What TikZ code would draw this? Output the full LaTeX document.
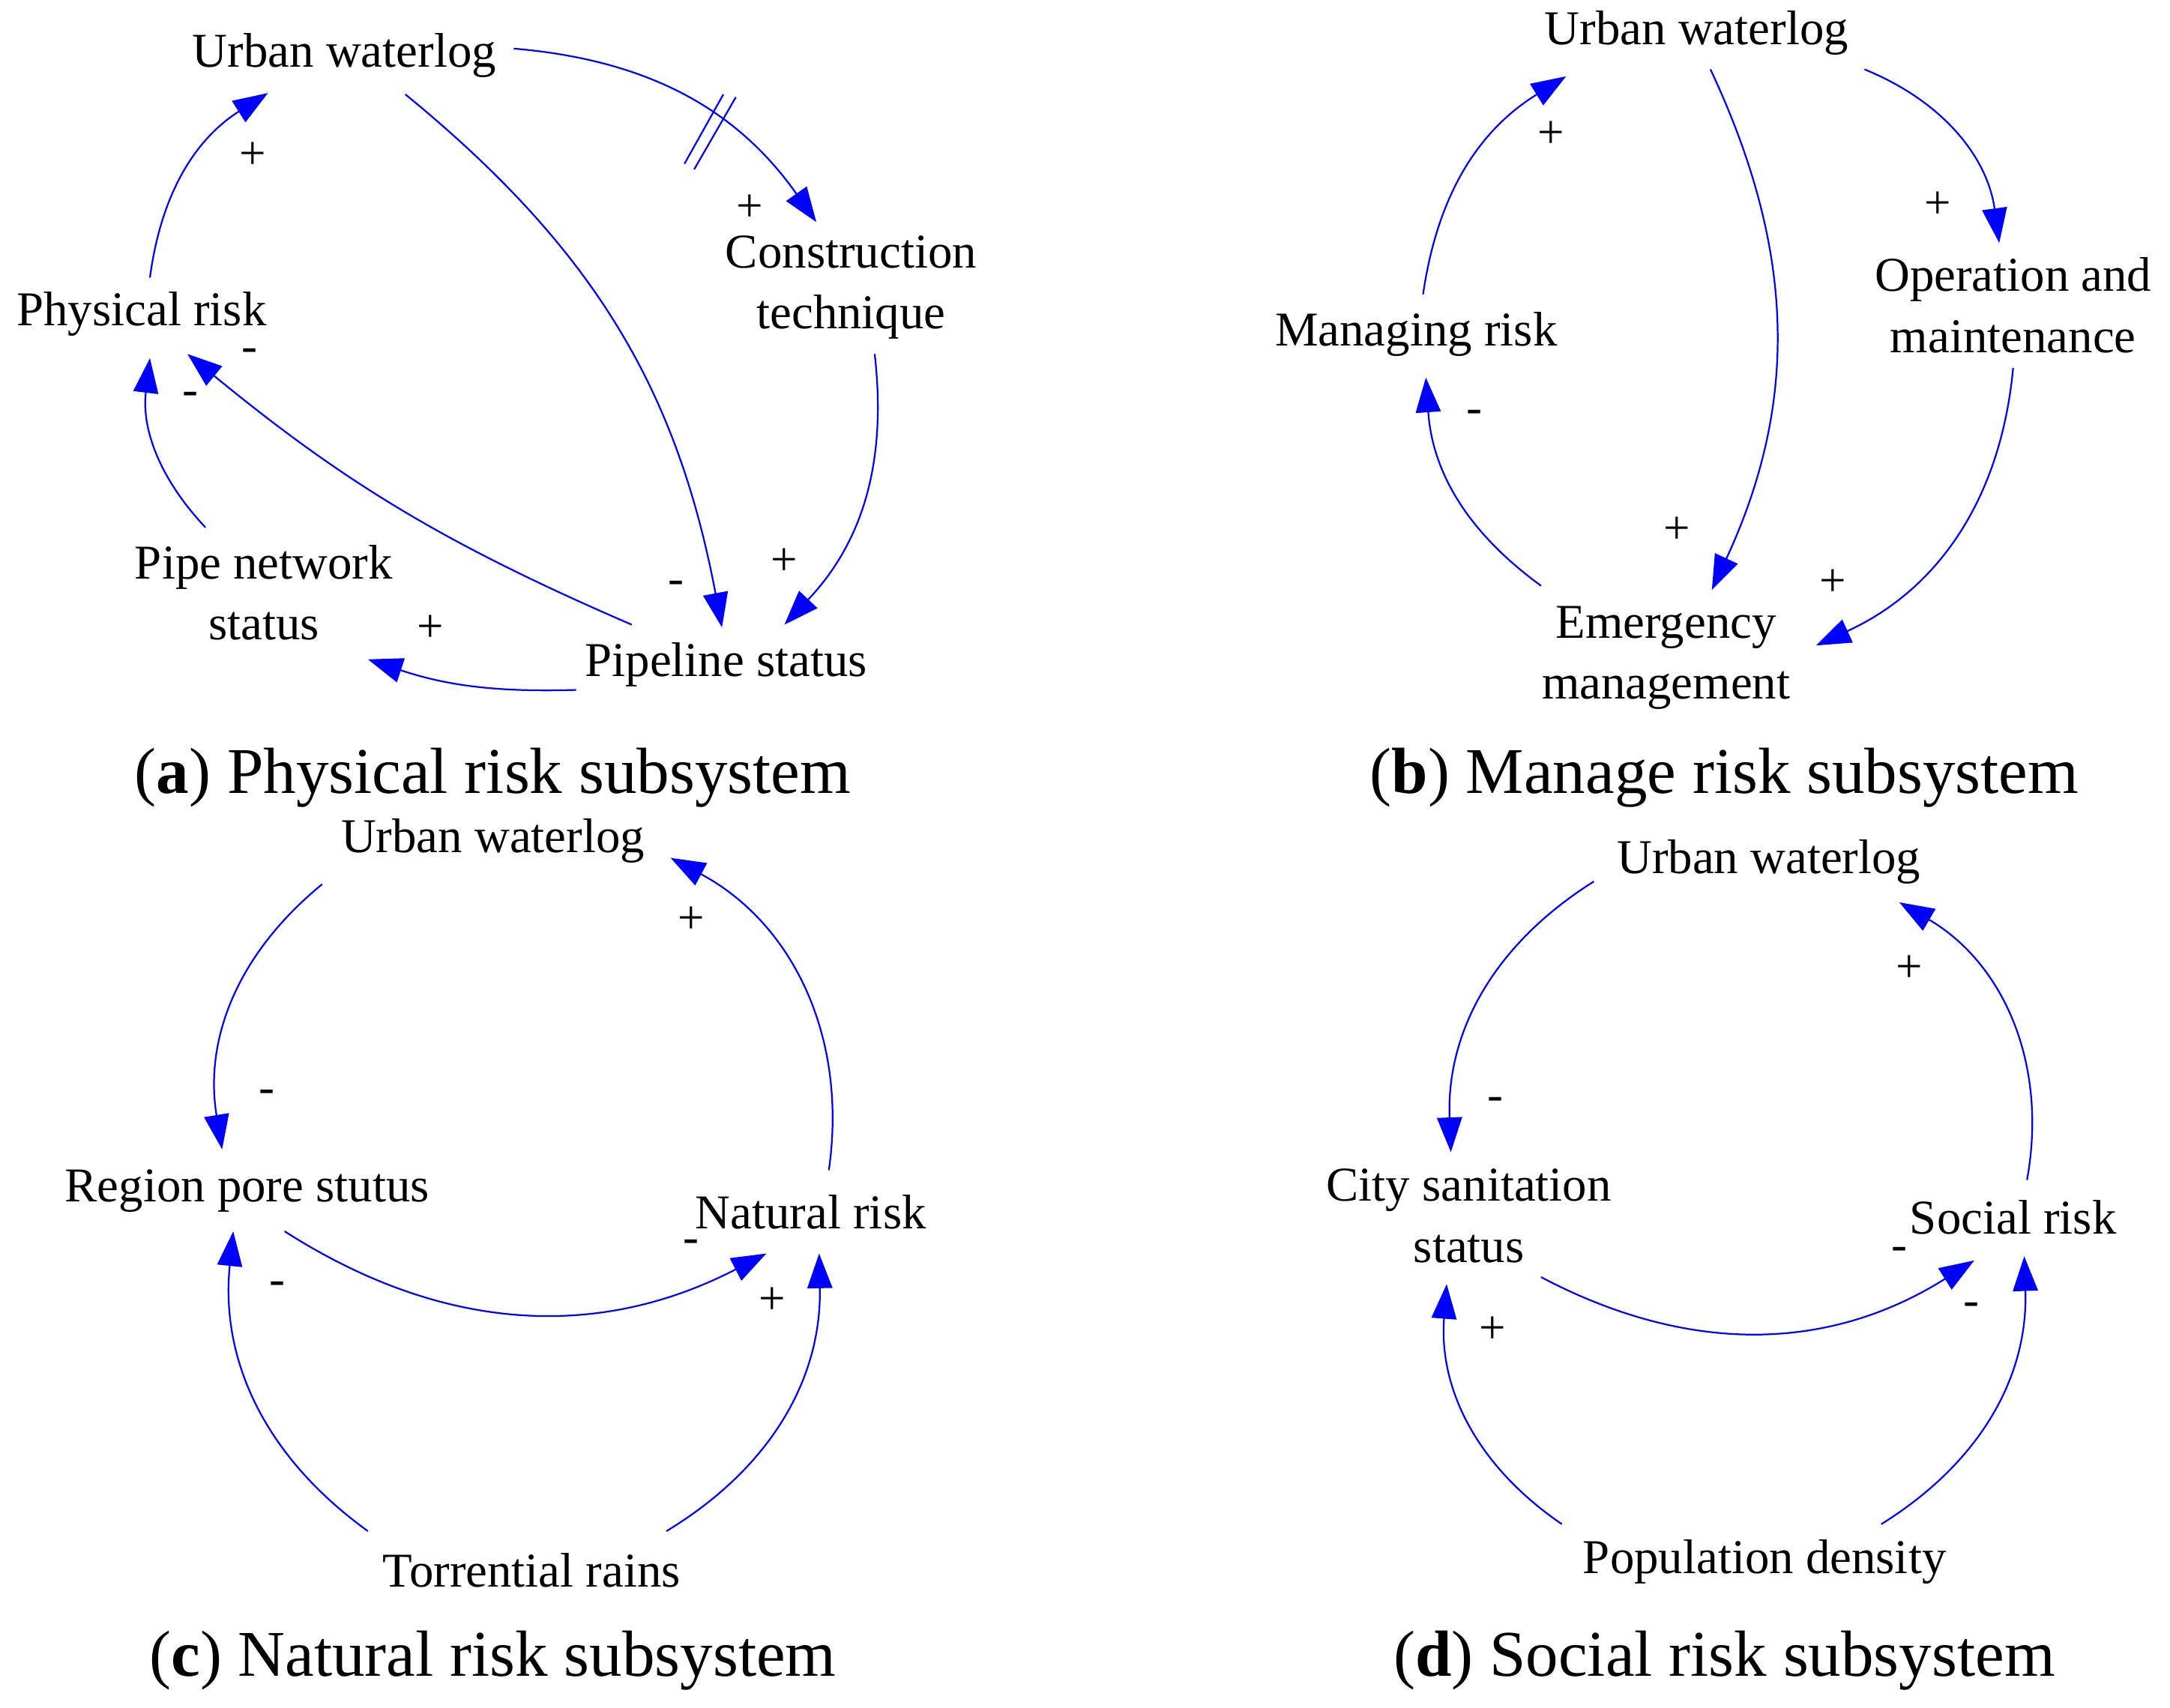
\documentclass[tikz,border=0pt]{standalone}
\usepackage{fontspec}
\setmainfont{Liberation Serif}
\usetikzlibrary{arrows.meta}
\begin{document}
\begin{tikzpicture}[x=0.5pt,y=0.5pt,
  lbl/.style={font=\fontsize{17.5}{22}\selectfont,align=center,inner sep=0pt},
  sgn/.style={font=\fontsize{17}{20}\selectfont,inner sep=0pt},
  captxt/.style={font=\fontsize{23.5}{28}\selectfont,inner sep=0pt},
  arr/.style={draw=blue,line width=0.6pt,-{Triangle[length=12.5pt,width=9pt]},fill=none}]
\useasboundingbox (0,0) rectangle (1563,-1230);
% (a)
\node[lbl] (aUW) at (248,-40) {Urban waterlog};
\node[lbl] (aCT) at (613,-207) {Construction\\technique};
\node[lbl] (aPH) at (102,-226) {Physical risk};
\node[lbl] (aPN) at (190,-427) {Pipe network\\status};
\node[lbl] (aPS) at (523,-479) {Pipeline status};
\draw[arr] ([shift={(122,5)}]aUW.center) to[bend left=25] ([shift={(-25,47)}]aCT.center);
\draw[arr] ([shift={(17,-48)}]aCT.center) to[bend left=25] ([shift={(42,29)}]aPS.center);
\draw[arr] ([shift={(44,-28)}]aUW.center) to[bend left=20] ([shift={(-3,27)}]aPS.center);
\draw[arr] ([shift={(-68,29)}]aPS.center) to[bend left=8] ([shift={(33,-29)}]aPH.center);
\draw[arr] ([shift={(-108,-18)}]aPS.center) to[bend left=10] ([shift={(75,-48)}]aPN.center);
\draw[arr] ([shift={(-42,47)}]aPN.center) to[bend left=25] ([shift={(6,-32)}]aPH.center);
\draw[arr] ([shift={(6,26)}]aPH.center) to[bend left=25] ([shift={(-55,-27)}]aUW.center);
\draw[blue,line width=0.6pt] (493,-118) -- (521,-68) (500,-122) -- (530,-70);
\node[sgn] (as1) at (540,-150) {+};
\node[sgn] (as2) at (565,-405) {+};
\node[sgn] (as3) at (487,-423) {-};
\node[sgn] (as4) at (180,-256) {-};
\node[sgn] (as5) at (310,-453) {+};
\node[sgn] (as6) at (137,-287) {-};
\node[sgn] (as7) at (182,-112) {+};
\node[captxt] (acap) at (355,-560) {(\textbf{a}) Physical risk subsystem};
% (b)
\node[lbl] (bUW) at (1222,-24) {Urban waterlog};
\node[lbl] (bOM) at (1450,-220) {Operation and\\maintenance};
\node[lbl] (bMR) at (1020,-241) {Managing risk};
\node[lbl] (bEM) at (1200,-474) {Emergency\\management};
\draw[arr] ([shift={(121,-26)}]bUW.center) to[bend left=30] ([shift={(-10,45)}]bOM.center);
\draw[arr] ([shift={(0,-45)}]bOM.center) to[bend left=30] ([shift={(108,9)}]bEM.center);
\draw[arr] ([shift={(10,-26)}]bUW.center) to[bend left=25] ([shift={(33,49)}]bEM.center);
\draw[arr] ([shift={(-90,52)}]bEM.center) to[bend left=25] ([shift={(7,-31)}]bMR.center);
\draw[arr] ([shift={(5,29)}]bMR.center) to[bend left=25] ([shift={(-94,-31)}]bUW.center);
\node[sgn] (bs1) at (1396,-148) {+};
\node[sgn] (bs2) at (1320,-420) {+};
\node[sgn] (bs3) at (1208,-382) {+};
\node[sgn] (bs4) at (1062,-300) {-};
\node[sgn] (bs5) at (1117,-97) {+};
\node[captxt] (bcap) at (1242,-560) {(\textbf{b}) Manage risk subsystem};
% (c)
\node[lbl] (cUW) at (355,-606) {Urban waterlog};
\node[lbl] (cRP) at (178,-858) {Region pore stutus};
\node[lbl] (cNR) at (584,-873) {Natural risk};
\node[lbl] (cTR) at (383,-1131) {Torrential rains};
\draw[arr] ([shift={(-123,-31)}]cUW.center) to[bend right=30] ([shift={(-18,30)}]cRP.center);
\draw[arr] ([shift={(13,30)}]cNR.center) to[bend right=35] ([shift={(128,-12)}]cUW.center);
\draw[arr] ([shift={(27,-29)}]cRP.center) to[bend right=30] ([shift={(-32,-30)}]cNR.center);
\draw[arr] ([shift={(-118,28)}]cTR.center) to[bend left=30] ([shift={(-10,-29)}]cRP.center);
\draw[arr] ([shift={(97,28)}]cTR.center) to[bend right=30] ([shift={(6,-30)}]cNR.center);
\node[sgn] (cs1) at (192,-790) {-};
\node[sgn] (cs2) at (498,-663) {+};
\node[sgn] (cs3) at (498,-898) {-};
\node[sgn] (cs4) at (200,-928) {-};
\node[sgn] (cs5) at (556,-937) {+};
\node[captxt] (ccap) at (355,-1196) {(\textbf{c}) Natural risk subsystem};
% (d)
\node[lbl] (dUW) at (1274,-621) {Urban waterlog};
\node[lbl] (dCS) at (1058,-876) {City sanitation\\status};
\node[lbl] (dSR) at (1450,-877) {Social risk};
\node[lbl] (dPD) at (1271,-1125) {Population density};
\draw[arr] ([shift={(-126,-14)}]dUW.center) to[bend right=30] ([shift={(-13,46)}]dCS.center);
\draw[arr] ([shift={(10,27)}]dSR.center) to[bend right=35] ([shift={(94,-29)}]dUW.center);
\draw[arr] ([shift={(52,-44)}]dCS.center) to[bend right=30] ([shift={(-28,-31)}]dSR.center);
\draw[arr] ([shift={(-146,27)}]dPD.center) to[bend left=30] ([shift={(-16,-49)}]dCS.center);
\draw[arr] ([shift={(84,27)}]dPD.center) to[bend right=30] ([shift={(8,-28)}]dSR.center);
\node[sgn] (ds1) at (1077,-795) {-};
\node[sgn] (ds2) at (1375,-698) {+};
\node[sgn] (ds3) at (1368,-903) {-};
\node[sgn] (ds4) at (1075,-958) {+};
\node[sgn] (ds5) at (1420,-943) {-};
\node[captxt] (dcap) at (1242,-1196) {(\textbf{d}) Social risk subsystem};
\end{tikzpicture}
\end{document}
